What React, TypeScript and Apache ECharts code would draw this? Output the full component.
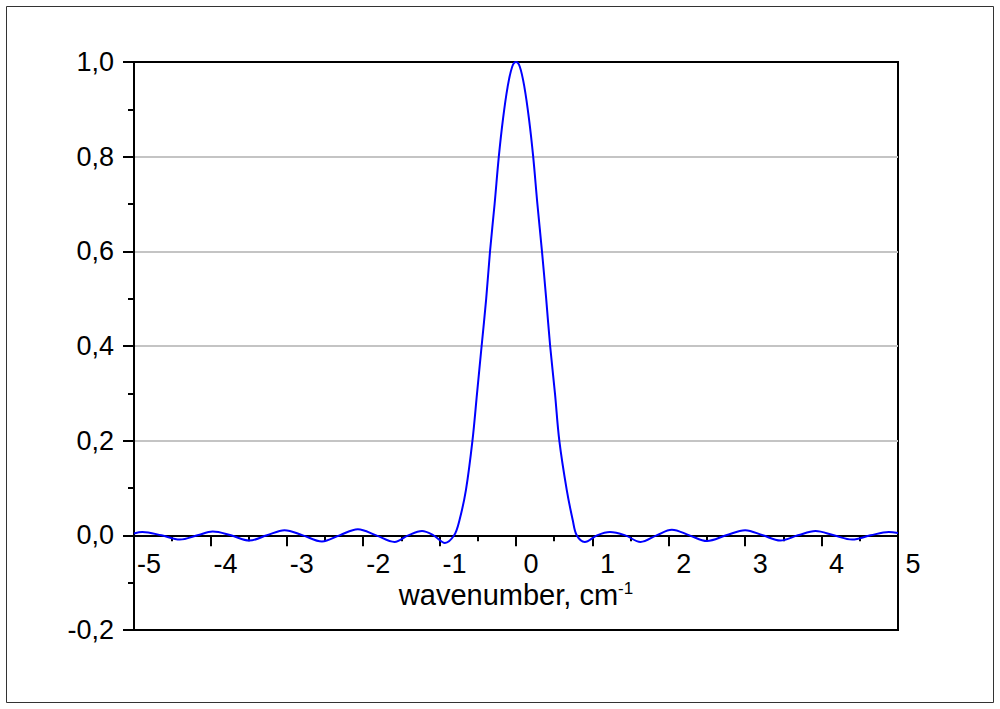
import React, { useEffect, useRef } from "react";
import * as echarts from "echarts";

const wavenumber: number[] = [
  -5.0, -4.89, -4.64, -4.4, -4.17, -3.97, -3.73, -3.49, -3.26, -3.03, -2.79, -2.54, -2.31, -2.07, -1.83, -1.59,
  -1.41, -1.23, -1.08, -0.93, -0.81, -0.74, -0.655, -0.57, -0.51, -0.45, -0.39, -0.34, -0.28, -0.225, -0.17, -0.11, -0.05, 0,
  0.05, 0.11, 0.17, 0.225, 0.28, 0.34, 0.395, 0.447, 0.51, 0.567, 0.664, 0.743, 0.795, 0.9, 1.06, 1.23, 1.43, 1.63, 1.84,
  2.04, 2.27, 2.5, 2.75, 3.0, 3.23, 3.46, 3.69, 3.92, 4.16, 4.4, 4.64, 4.88, 5.0,
];
const intensity: number[] = [
  0.004, 0.007, 0.0, -0.009, 0.0, 0.008, 0.0, -0.011, 0.0, 0.011, 0.0, -0.013, 0.0, 0.013, 0.0, -0.014,
  0.0, 0.009, 0.0, -0.016, 0.0, 0.032, 0.096, 0.2, 0.3, 0.4, 0.5, 0.6, 0.7, 0.8, 0.88, 0.947, 0.99, 1.0,
  0.99, 0.947, 0.88, 0.8, 0.7, 0.6, 0.5, 0.4, 0.3, 0.2, 0.096, 0.032, 0.0, -0.014, 0.0, 0.007, 0.0, -0.014, 0.0,
  0.012, 0.0, -0.012, 0.0, 0.011, 0.0, -0.011, 0.0, 0.009, 0.0, -0.009, 0.0, 0.007, 0.005,
];
const xTicks = { min: -5, max: 5, step: 1 };
const yTicks = { min: -0.2, max: 1.0, step: 0.2 };
const xTitle = "wavenumber, cm";
const xTitleSup = "-1";

const FONT = "'Liberation Sans', Arial, sans-serif";
const GRID = { left: 134, right: 102, top: 62, bottom: 79 };
const H = 709;

export default function App() {
  const ref = useRef<HTMLDivElement>(null);
  useEffect(() => {
    document.body.style.margin = "0";
    const chart = echarts.init(ref.current!, null, { renderer: "svg" });
    const data = wavenumber.map((x, i) => [x, intensity[i]]);
    const plotH = H - GRID.top - GRID.bottom;
    const zeroOffset = -((0 - yTicks.min) / (yTicks.max - yTicks.min)) * plotH;
    chart.setOption({
      animation: false,
      backgroundColor: "#ffffff",
      textStyle: { fontFamily: FONT },
      grid: {
        ...GRID,
        outerBoundsMode: "none",
        containLabel: false,
        show: true,
        borderColor: "#000",
        borderWidth: 2,
        backgroundColor: "transparent",
      },
      graphic: [
        {
          type: "rect",
          shape: { x: 6.5, y: 6.5, width: 987, height: 696 },
          style: { fill: "none", stroke: "#333", lineWidth: 1 },
          silent: true,
          z: -1,
        },
      ],
      xAxis: {
        type: "value",
        position: "bottom",
        offset: zeroOffset,
        min: xTicks.min,
        max: xTicks.max,
        interval: xTicks.step,
        axisLine: { onZero: false, lineStyle: { color: "#000", width: 2 } },
        axisTick: { show: true, length: 11, lineStyle: { color: "#000", width: 2 } },
        minorTick: { show: true, splitNumber: 2, length: 6, lineStyle: { color: "#000", width: 2 } },
        splitLine: { show: false },
        axisLabel: {
          color: "#000",
          fontSize: 27,
          fontFamily: FONT,
          margin: 15,
          padding: [0, 0, 0, 30],
          showMinLabel: true,
          showMaxLabel: true,
          formatter: (v: number) => String(v),
        },
        name: xTitle + "{sup|" + xTitleSup + "}",
        nameLocation: "middle",
        nameGap: 45,
        nameMoveOverlap: false,
        nameTextStyle: {
          color: "#000",
          fontSize: 29,
          fontFamily: FONT,
          lineHeight: 30,
          rich: {
            sup: { fontSize: 17, fontFamily: FONT, color: "#000", verticalAlign: "top", lineHeight: 30 },
          },
        },
      },
      yAxis: {
        type: "value",
        min: yTicks.min,
        max: yTicks.max,
        interval: yTicks.step,
        axisLine: { show: true, onZero: false, lineStyle: { color: "#000", width: 2 } },
        axisTick: { show: true, length: 11, lineStyle: { color: "#000", width: 2 } },
        minorTick: { show: true, splitNumber: 2, length: 6, lineStyle: { color: "#000", width: 2 } },
        splitLine: { show: true, showMinLine: false, showMaxLine: false, lineStyle: { color: "#c4c4c4", width: 2 } },
        axisLabel: {
          color: "#000",
          fontSize: 27,
          fontFamily: FONT,
          margin: 20,
          formatter: (v: number) => v.toFixed(1).replace(".", ","),
        },
      },
      series: [
        {
          type: "line",
          data,
          smooth: 0.35,
          symbol: "none",
          lineStyle: { color: "#0000ff", width: 2 },
          clip: true,
        },
      ],
    });
    return () => chart.dispose();
  }, []);
  return <div ref={ref} style={{ width: 1000, height: 709 }} />;
}
